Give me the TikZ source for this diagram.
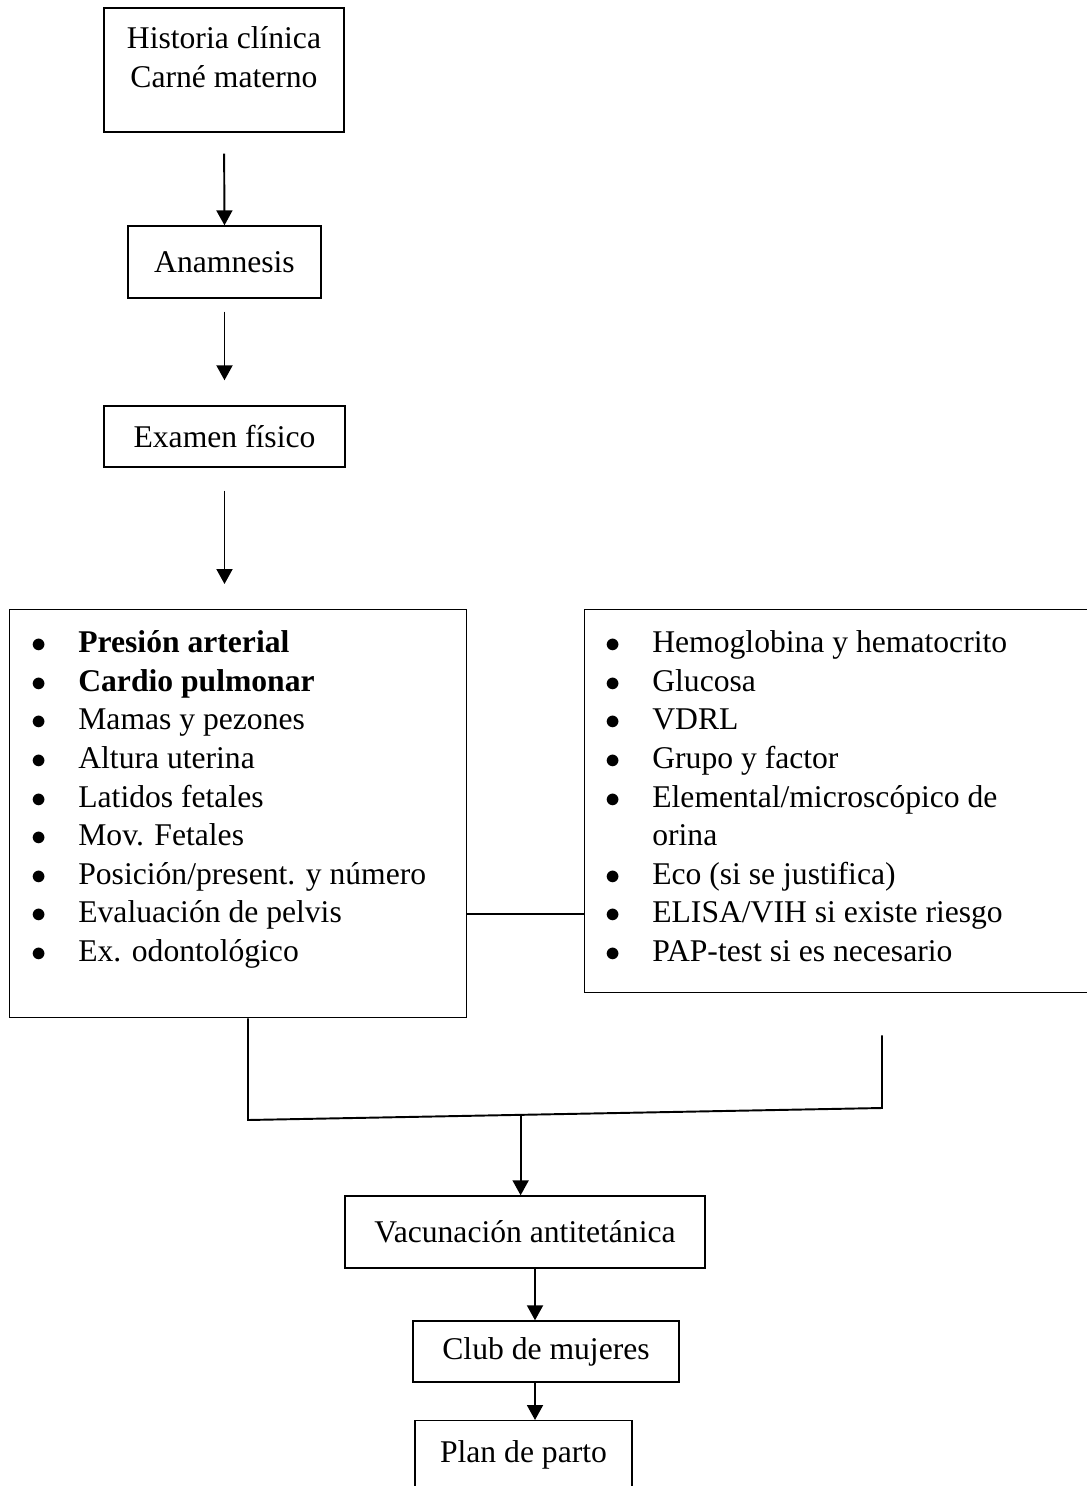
\documentclass[tikz,border=0pt]{standalone}
\usepackage{fontspec}
\setmainfont{Liberation Serif}
\usetikzlibrary{arrows.meta,positioning,calc}

\begin{document}
\begin{tikzpicture}[x=0.02cm, y=-0.02cm,
  box/.style={draw, line width=0.8pt, rectangle, align=center, inner sep=0pt, font=\fontsize{18}{22}\selectfont},
  lst/.style={anchor=north west, inner sep=0pt, font=\fontsize{18}{22}\selectfont},
  link/.style={line width=1.1pt},
  arrow/.style={line width=1.1pt, -{Triangle[length=0.3cm, width=0.32cm]}}]
  % page frame
  \useasboundingbox (0,0) rectangle (1086,1486);

  % First steps
  \node[box, minimum width=4.8cm, minimum height=2.48cm] (hist) at (224,70) {Historia clínica\\Carné materno\\[-0.48cm]\strut};
  \node[box, minimum width=3.86cm, minimum height=1.44cm] (anam) at (224.5,262) {Anamnesis};
  \node[box, minimum width=4.82cm, minimum height=1.22cm] (exfis) at (224.5,436.5) {Examen físico};

  \draw[arrow, shorten <=0.42cm] (hist.south) -- (anam.north);
  \draw[arrow, shorten <=0.26cm, shorten >=0.5cm] (anam.south) -- (exfis.north);

  % Exam box and lab box
  \node[box, anchor=north west, minimum width=9.14cm, minimum height=8.16cm] (exam) at (9,609) {};
  \node[box, anchor=north west, minimum width=10.3cm, minimum height=7.66cm] (lab) at (584,609) {};

  \node[lst] (examlist) at (31,625) {\begin{tabular}{@{}p{0.94cm}@{}l@{}}
    $\bullet$ & \textbf{Presión arterial}\\
    $\bullet$ & \textbf{Cardio pulmonar}\\
    $\bullet$ & Mamas y pezones\\
    $\bullet$ & Altura uterina\\
    $\bullet$ & Latidos fetales\\
    $\bullet$ & Mov. Fetales\\
    $\bullet$ & Posición/present. y número\\
    $\bullet$ & Evaluación de pelvis\\
    $\bullet$ & Ex. odontológico
  \end{tabular}};
  \node[lst] (lablist) at (605,625) {\begin{tabular}{@{}p{0.94cm}@{}l@{}}
    $\bullet$ & Hemoglobina y hematocrito\\
    $\bullet$ & Glucosa\\
    $\bullet$ & VDRL\\
    $\bullet$ & Grupo y factor\\
    $\bullet$ & Elemental/microscópico de\\
      & orina\\
    $\bullet$ & Eco (si se justifica)\\
    $\bullet$ & ELISA/VIH si existe riesgo\\
    $\bullet$ & PAP-test si es necesario
  \end{tabular}};

  \draw[arrow, shorten <=0.46cm, shorten >=0.5cm] (exfis.south) -- (exfis.south |- exam.north);

  % link between the two boxes
  \coordinate (hook) at (0,914);
  \draw[link] (exam.east |- hook) -- (lab.west |- hook);

  % joining lines below
  \coordinate (jl) at (248,1120);
  \coordinate (jr) at (882,1108);
  \draw[link, shorten >=0.84cm] (exam.south -| jl) -- (jl) -- (jr) -- (lab.south -| jr);
  \coordinate (jm) at ($(jl)!0.43!(jr)$);

  % Last steps
  \node[box, minimum width=7.2cm, minimum height=1.44cm] (vac) at (525,1232) {Vacunación antitetánica};
  \node[box, minimum width=5.32cm, minimum height=1.22cm] (club) at (546,1351.5) {Club de mujeres};
  \node[box, anchor=north, minimum width=4.34cm, text height=0.84cm, text depth=1.2cm] (plan) at (523.5,1420) {Plan de parto};

  \coordinate (cv) at (535,0);
  \draw[arrow] (jm) -- (jm |- vac.north);
  \draw[arrow] (vac.south -| cv) -- (club.north -| cv);
  \draw[arrow] (club.south -| cv) -- (plan.north -| cv);
\end{tikzpicture}
\end{document}
